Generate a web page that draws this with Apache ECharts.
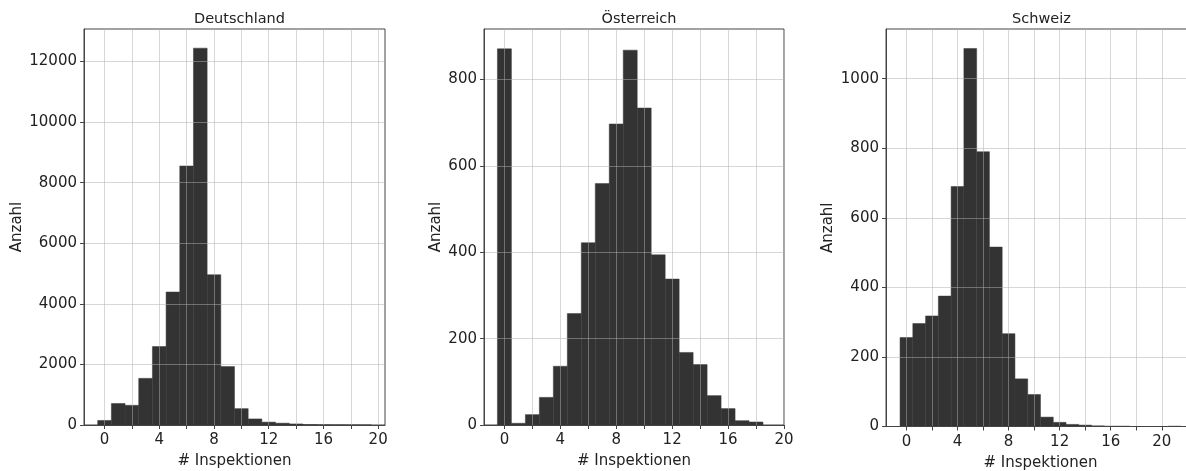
<!DOCTYPE html>
<html>
<head>
<meta charset="utf-8">
<script src="https://cdn.jsdelivr.net/npm/echarts@6/dist/echarts.min.js"></script>
<style>
html,body{margin:0;padding:0;background:#fff;}
#chart{width:1186px;height:471px;}
</style>
</head>
<body>
<div id="chart"></div>
<script>
// ---- data (counts per number of inspections, bins centred on integers) ----
const panelTitles = ['Deutschland', 'Österreich', 'Schweiz'];
const deCounts = [150, 710, 650, 1540, 2590, 4390, 8550, 12440, 4960, 1930, 540, 200, 95, 60, 35, 15, 8, 5, 3, 2];
const atCounts = [871, 4, 24, 64, 136, 258, 422, 559, 697, 868, 734, 394, 338, 168, 140, 68, 38, 10, 7];
const chCounts = [256, 296, 318, 375, 690, 1087, 790, 516, 267, 137, 92, 27, 12, 6, 4, 2, 1, 1, 0, 0, 0, 1];
const xTickLabels = [0, 4, 8, 12, 16, 20];
const xGridValues = [0, 2, 4, 6, 8, 10, 12, 14, 16, 18, 20, 22];
const deYTicks = [0, 2000, 4000, 6000, 8000, 10000, 12000];
const atYTicks = [0, 200, 400, 600, 800];
const chYTicks = [0, 200, 400, 600, 800, 1000];
const xName = '# Inspektionen';
const yName = 'Anzahl';

const FONT = 'DejaVu Sans';
const TXT = '#222';
const SPINE = '#444';

function toBins(counts) {
  return counts.map((c, i) => [i - 0.5, i + 0.5, c]);
}

const panels = [
  {counts: deCounts, yTicks: deYTicks, xmin: -1.5, xmax: 20.5, ymax: 13072,
   grid: {left: 84, top: 29, width: 301, height: 396}, nameGap: 59, titleX: 234.5},
  {counts: atCounts, yTicks: atYTicks, xmin: -1.46, xmax: 20, ymax: 917,
   grid: {left: 484, top: 29, width: 300, height: 396}, nameGap: 40, titleX: 634},
  {counts: chCounts, yTicks: chYTicks, xmin: -1.6, xmax: 22.6, ymax: 1143,
   grid: {left: 886, top: 29, width: 309, height: 397.5}, nameGap: 50, titleX: 1036.5}
];

const gridLine = {show: true, lineStyle: {color: 'rgba(176,176,176,0.5)', width: 1}};

const option = {
  backgroundColor: '#fff',
  animation: false,
  title: panels.map((p, i) => ({
    text: panelTitles[i],
    left: p.titleX,
    textAlign: 'center',
    top: 7,
    textStyle: {fontFamily: FONT, fontSize: 14.5, fontWeight: 'normal', color: TXT}
  })),
  grid: panels.map(p => Object.assign({show: true, borderColor: SPINE, borderWidth: 1,
    backgroundColor: 'transparent', outerBoundsMode: 'none', containLabel: false}, p.grid)),
  xAxis: panels.map((p, i) => ({
    type: 'value', gridIndex: i, min: p.xmin, max: p.xmax, z: 5,
    name: xName, nameLocation: 'middle', nameGap: 29,
    nameTextStyle: {fontFamily: FONT, fontSize: 15, color: TXT},
    axisLine: {show: true, onZero: false, lineStyle: {color: SPINE, width: 1}},
    axisTick: {show: true, length: 4, customValues: xGridValues, lineStyle: {color: SPINE}},
    axisLabel: {customValues: xTickLabels, margin: 8, fontFamily: FONT, fontSize: 15, color: TXT,
                formatter: v => String(v)},
    splitLine: gridLine
  })),
  yAxis: panels.map((p, i) => ({
    type: 'value', gridIndex: i, min: 0, max: p.ymax, z: 5,
    name: yName, nameLocation: 'middle', nameGap: p.nameGap, nameRotate: 90,
    nameTextStyle: {fontFamily: FONT, fontSize: 15, color: TXT},
    axisLine: {show: true, onZero: false, lineStyle: {color: SPINE, width: 1}},
    axisTick: {show: true, length: 4, customValues: p.yTicks, lineStyle: {color: SPINE}},
    axisLabel: {customValues: p.yTicks, margin: 7, fontFamily: FONT, fontSize: 15, color: TXT,
                formatter: v => String(v)},
    splitLine: gridLine
  })),
  series: panels.map((p, i) => ({
    type: 'custom', xAxisIndex: i, yAxisIndex: i, z: 2,
    data: toBins(p.counts),
    renderItem: function (params, api) {
      const a = api.coord([api.value(0), api.value(2)]);
      const b = api.coord([api.value(1), 0]);
      return {
        type: 'rect',
        shape: {x: a[0], y: a[1], width: b[0] - a[0], height: b[1] - a[1]},
        style: {fill: '#333333', stroke: '#3a3a3a', lineWidth: 0.5}
      };
    }
  }))
};

const chart = echarts.init(document.getElementById('chart'), null, {renderer: 'canvas'});
chart.setOption(option);
</script>
</body>
</html>
